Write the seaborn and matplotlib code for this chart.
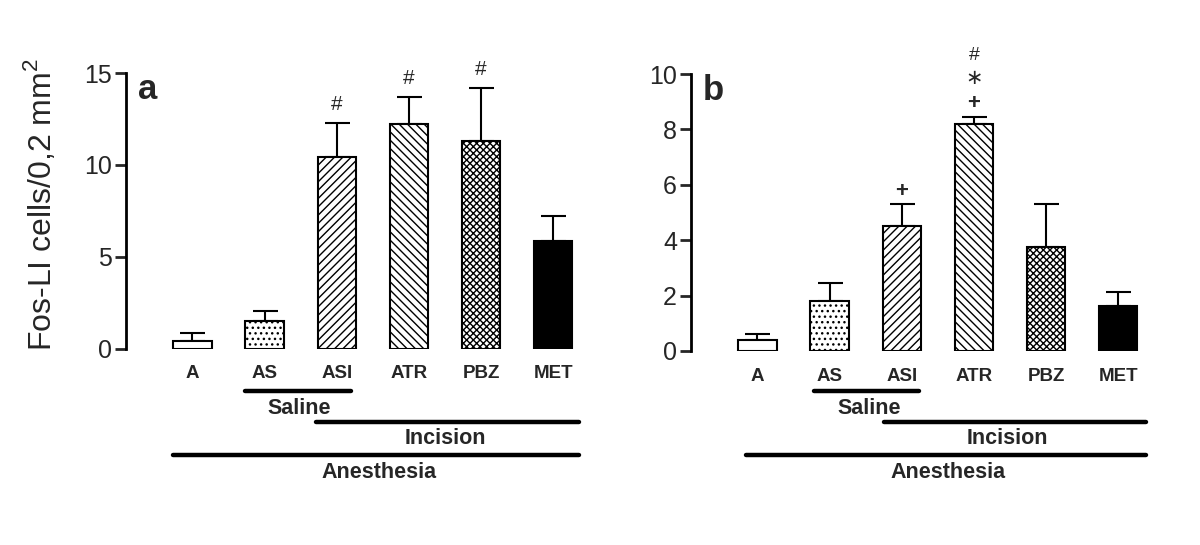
import matplotlib
matplotlib.use('Agg')
import matplotlib.pyplot as plt
import numpy as np
import pandas as pd
import seaborn as sns

# data
groups = ['A', 'AS', 'ASI', 'ATR', 'PBZ', 'MET']
mean_a = [0.42, 1.5, 10.4, 12.2, 11.3, 5.85]
top_a = [0.85, 2.05, 12.3, 13.7, 14.2, 7.2]
mean_b = [0.4, 1.8, 4.5, 8.2, 3.75, 1.62]
top_b = [0.62, 2.45, 5.3, 8.45, 5.3, 2.14]
marks_a = ['', '', '#', '#', '#', '']
marks_b = [[], [], ['+'], ['+', '*', '#'], [], []]
yticks_a = [0, 5, 10, 15]
yticks_b = [0, 2, 4, 6, 8, 10]

# fill style of each group
fills = ['white', 'white', 'white', 'white', 'white', 'black']
hatches = [None, '...', '////', '\\\\\\\\', 'xxxxx', None]

sns.set_style('white')
plt.rcParams['font.family'] = ['Liberation Sans', 'DejaVu Sans']
plt.rcParams['mathtext.fontset'] = 'custom'
plt.rcParams['mathtext.rm'] = 'Liberation Sans'
plt.rcParams['hatch.linewidth'] = 1.0

fig = plt.figure(figsize=(12, 5.45), dpi=100)
ax_a = fig.add_axes([126 / 1200, 196.5 / 545, 467 / 1200, 275.5 / 545])
ax_b = fig.add_axes([691 / 1200, 194 / 545, 467 / 1200, 277 / 545])


def draw_panel(ax, means, tops, ymax, yticks, letter, lines):
    df = pd.DataFrame({'group': groups, 'value': means})
    sns.barplot(data=df, x='group', y='value', ax=ax, color='white',
                edgecolor='black', linewidth=1.5, width=0.53, errorbar=None)
    for p, fc, h in zip(ax.patches, fills, hatches):
        p.set_facecolor(fc)
        if h:
            p.set_hatch(h)
    x = np.arange(len(groups))
    err = np.array(tops) - np.array(means)
    ax.errorbar(x, means, yerr=[np.zeros(len(x)), err], fmt='none',
                ecolor='black', elinewidth=1.5, capsize=9, capthick=1.5, zorder=0)
    ax.set_xlim(-0.92, 5.55)
    ax.set_ylim(0, ymax)
    ax.set_yticks(yticks)
    ax.set_xlabel('')
    ax.set_ylabel('')
    for s in ['top', 'right', 'bottom']:
        ax.spines[s].set_visible(False)
    ax.spines['left'].set_linewidth(2)
    ax.spines['left'].set_color('black')
    ax.tick_params(axis='y', length=8, width=2, labelsize=18, pad=2, left=True)
    ax.tick_params(axis='x', length=0, labelsize=13.5, pad=12)
    for t in ax.get_xticklabels():
        t.set_fontweight('bold')
    ax.text(0.025, 1.0, letter, transform=ax.transAxes, fontsize=25,
            fontweight='bold', va='top', ha='left')
    # group bars under the axis
    tr = ax.get_xaxis_transform()
    h = ax.get_window_extent().height
    for x0, x1, ly, label, tx, ty in lines:
        ax.plot([x0, x1], [-ly / h, -ly / h], transform=tr, color='black',
                lw=3.2, solid_capstyle='round', clip_on=False)
        ax.text(tx, -ty / h, label, transform=tr, ha='center', va='center',
                fontsize=15.5, fontweight='bold')


draw_panel(ax_a, mean_a, top_a, 15, yticks_a, 'a',
           [(0.73, 2.2, 42, 'Saline', 1.48, 60),
            (1.71, 5.35, 73, 'Incision', 3.5, 90),
            (-0.27, 5.35, 106, 'Anesthesia', 2.58, 124)])
draw_panel(ax_b, mean_b, top_b, 10, yticks_b, 'b',
           [(0.78, 2.24, 40, 'Saline', 1.55, 57),
            (1.76, 5.38, 71, 'Incision', 3.47, 88),
            (-0.16, 5.38, 104, 'Anesthesia', 2.64, 122)])

for i, m in enumerate(marks_a):
    if m:
        ax_a.annotate(m, (i, top_a[i]), xytext=(0, 18), textcoords='offset pixels',
                      ha='center', va='center', fontsize=15, annotation_clip=False)

# symbol: (text, font, size, weight, offset in pixels above the error bar)
sym_style = {'+': ('+', 'Liberation Sans', 16, 'bold', 13),
             '*': ('\u2217', 'DejaVu Sans', 15, 'normal', 38.5),
             '#': ('#', 'Liberation Sans', 14, 'normal', 61.5)}
for i, ms in enumerate(marks_b):
    for m in ms:
        txt, fam, size, weight, off = sym_style[m]
        ax_b.annotate(txt, (i, top_b[i]), xytext=(0, off), textcoords='offset pixels',
                      ha='center', va='center', fontsize=size, fontweight=weight,
                      family=[fam, 'DejaVu Sans'], annotation_clip=False)

fig.text(40 / 1200, 1 - 205 / 545, 'Fos-LI cells/0,2 mm$^{2}$', rotation=90,
         ha='center', va='center', fontsize=23)

fig.savefig('out.png', dpi=100)
